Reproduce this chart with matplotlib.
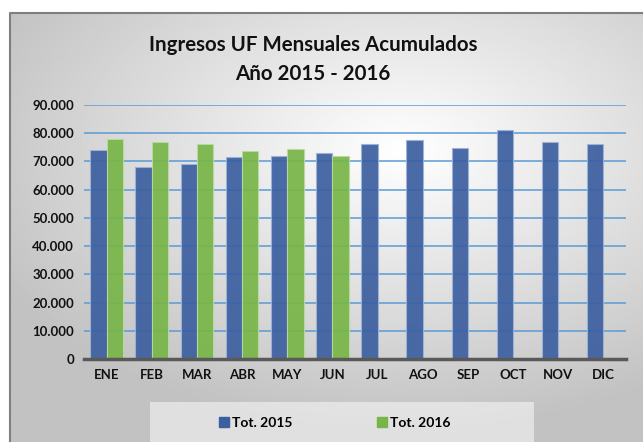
import numpy as np
import matplotlib
matplotlib.use("Agg")
import matplotlib.pyplot as plt
from matplotlib.patches import Rectangle
from matplotlib.lines import Line2D
from matplotlib.ticker import FuncFormatter

meses = ["ENE", "FEB", "MAR", "ABR", "MAY", "JUN", "JUL", "AGO", "SEP", "OCT", "NOV", "DIC"]
tot_2015 = [74000, 68000, 69000, 71500, 72000, 72900, 76100, 77700, 74900, 81300, 76800, 76100]
tot_2016 = [77900, 76800, 76100, 73600, 74300, 71900]

plt.rcParams["font.family"] = ["Lato", "DejaVu Sans"]

W, H = 643, 442
fig = plt.figure(figsize=(W / 100, H / 100), dpi=100)

# -------------------------------
# background panel (gray radial gradient)
# -------------------------------
bg = fig.add_axes([10 / W, 0, 1 - 10 / W, 1 - 13 / H])
yy, xx = np.mgrid[0:1:200j, 0:1:300j]
d = np.sqrt(((xx - 0.62) / 1.0) ** 2 + ((yy - 0.68) / 0.9) ** 2)
g = np.clip(1.0 - 0.33 * d, 0.76, 1.0)
bg.imshow(g, cmap="gray", vmin=0, vmax=1, extent=[0, 1, 0, 1], origin="lower", aspect="auto")
bg.set_xlim(0, 1)
bg.set_ylim(0, 1)
bg.axis("off")
bg.plot([0, 0, 1], [0, 1, 1], color="#7f7f7f", lw=1.5, clip_on=False)

# legend box
fig.patches.append(Rectangle((150 / W, 0), (534 - 150) / W, (442 - 402) / H,
                             transform=fig.transFigure, facecolor="white", alpha=0.5,
                             edgecolor="none", zorder=1))

# -------------------------------
# main axes
# -------------------------------
ax = fig.add_axes([84 / W, 1 - 359 / H, (626 - 84) / W, (359 - 105) / H])
ax.set_facecolor("none")

x = np.arange(len(meses))
w = 0.36
ax.bar(x - w / 2, tot_2015, width=w, color="#3c5fa0", alpha=0.92,
       edgecolor="#9fb3d8", linewidth=0.8, label="Tot. 2015", zorder=3)
ax.bar(x[:len(tot_2016)] + w / 2, tot_2016, width=w, color="#78b547", alpha=0.92,
       edgecolor="#b8dba0", linewidth=0.8, label="Tot. 2016", zorder=3)

ax.set_xlim(-0.5, len(meses) - 0.5)
ax.set_ylim(0, 90000)
ax.set_yticks(np.arange(0, 90001, 10000))
ax.yaxis.set_major_formatter(FuncFormatter(lambda v, p: f"{int(v):,}".replace(",", ".")))
ax.set_xticks(x)
ax.set_xticklabels(meses)
ax.grid(axis="y", color="#5b9bd5", linewidth=1.1, zorder=0)
ax.set_axisbelow(True)
for s in ["top", "right", "left"]:
    ax.spines[s].set_visible(False)
ax.spines["bottom"].set_color("#595959")
ax.spines["bottom"].set_linewidth(2.5)
ax.spines["bottom"].set_zorder(4)
ax.tick_params(length=0, labelsize=9.5, pad=7)
for t in ax.get_xticklabels() + ax.get_yticklabels():
    t.set_fontweight("bold")
    t.set_color("#111111")

fig.text(0.487, 1 - 45 / H, "Ingresos UF Mensuales Acumulados", ha="center", va="center",
         fontsize=14.8, fontweight="bold", color="#111111")
fig.text(0.487, 1 - 74 / H, "Año 2015 - 2016", ha="center", va="center",
         fontsize=14.8, fontweight="bold", color="#111111")

handles = [Line2D([], [], marker="s", ls="", color="#3c5fa0", markersize=7),
           Line2D([], [], marker="s", ls="", color="#78b547", markersize=7)]
fig.legend(handles, ["Tot. 2015", "Tot. 2016"], loc="center", bbox_to_anchor=(0.52, 1 - 423 / H),
           ncol=2, frameon=False, columnspacing=6, handletextpad=0.2, handlelength=0.8,
           prop={"weight": "bold", "size": 10})

fig.savefig("out.png", dpi=100)
